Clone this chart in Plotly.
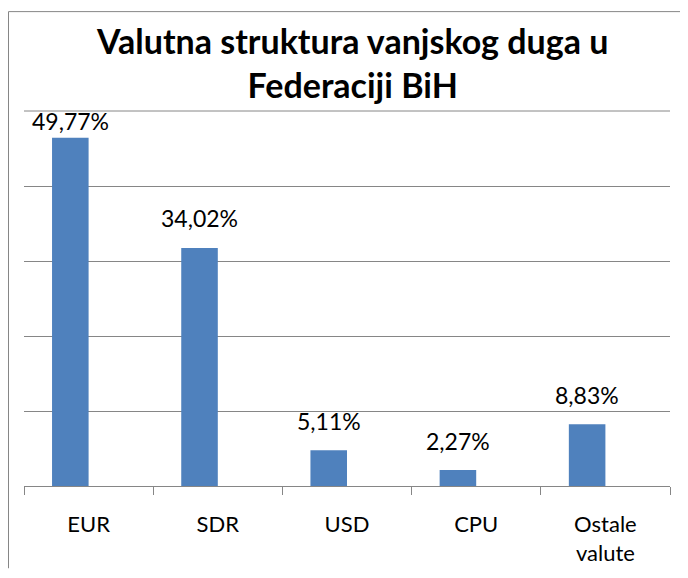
import plotly.graph_objects as go

categories = ["EUR", "SDR", "USD", "CPU", "Ostale<br>valute"]
values = [49.77, 34.02, 5.11, 2.27, 8.83]
labels = ["49,77%", "34,02%", "5,11%", "2,27%", "8,83%"]
title_text = "Valutna struktura vanjskog duga u<br>Federaciji BiH"

# page body has an 8px margin, so the figure is sized to end at the window edge
W, H = 680, 570
L, R, T, B = 16, 18, 103, 84
pw = W - L - R
ph = H - T - B
YMAX = 53.6
BARW = 0.283
GRID = "#868686"
FONT = "Lato, sans-serif"

fig = go.Figure()
fig.add_trace(go.Bar(
    x=categories, y=values,
    marker=dict(color="#4F81BD", line=dict(width=0)),
    width=BARW, offset=-BARW, hoverinfo="x+y",
))

# data labels: sit above the bar, but are kept inside the plot area
px_per_unit = ph / YMAX
cat_px = pw / len(categories)
annotations = []
for cat, v, lab in zip(categories, values, labels):
    room = (YMAX - v) * px_per_unit
    gap = min(19.6, room - 20.7)
    annotations.append(dict(
        x=cat, y=v, xref="x", yref="y", text=lab, showarrow=False,
        xanchor="center", yanchor="bottom",
        xshift=-BARW * cat_px / 2, yshift=gap - 6,
        font=dict(family=FONT, size=23, color="#000000"),
    ))

annotations.append(dict(
    text=title_text, showarrow=False,
    xref="paper", yref="paper",
    x=(343.5 - L) / pw, xanchor="center",
    y=(H - B - 53) / ph, yanchor="middle",
    font=dict(family=FONT, size=34, color="#000000", weight="bold"),
))

fig.update_layout(
    width=W, height=H, autosize=False,
    margin=dict(l=L, r=R, t=T, b=B),
    paper_bgcolor="white", plot_bgcolor="white",
    showlegend=False,
    xaxis=dict(
        showgrid=False, showline=True, linecolor=GRID, linewidth=1,
        ticks="outside", tickson="boundaries", ticklen=8, tickcolor=GRID,
        tickfont=dict(family=FONT, size=22, color="#000000"),
        ticklabelstandoff=19,
    ),
    yaxis=dict(
        range=[0, YMAX], tick0=0, dtick=YMAX / 5,
        showgrid=True, gridcolor=GRID, gridwidth=1,
        showticklabels=False, zeroline=False, showline=False,
    ),
    annotations=annotations,
    shapes=[
        # top gridline (plotly hides the one on the plot edge)
        dict(type="line", xref="paper", yref="paper", x0=0, x1=1, y0=1, y1=1,
             line=dict(color=GRID, width=1)),
        # chart border (left and top edges; others are outside the window)
        dict(type="line", xref="paper", yref="paper",
             x0=(0.5 - L) / pw, x1=(0.5 - L) / pw,
             y0=-B / ph, y1=(H - B - 1.5) / ph,
             line=dict(color=GRID, width=1)),
        dict(type="line", xref="paper", yref="paper",
             x0=(0.5 - L) / pw, x1=(W - L) / pw,
             y0=(H - B - 1.5) / ph, y1=(H - B - 1.5) / ph,
             line=dict(color=GRID, width=1)),
    ],
)

fig.write_html("out.html")
